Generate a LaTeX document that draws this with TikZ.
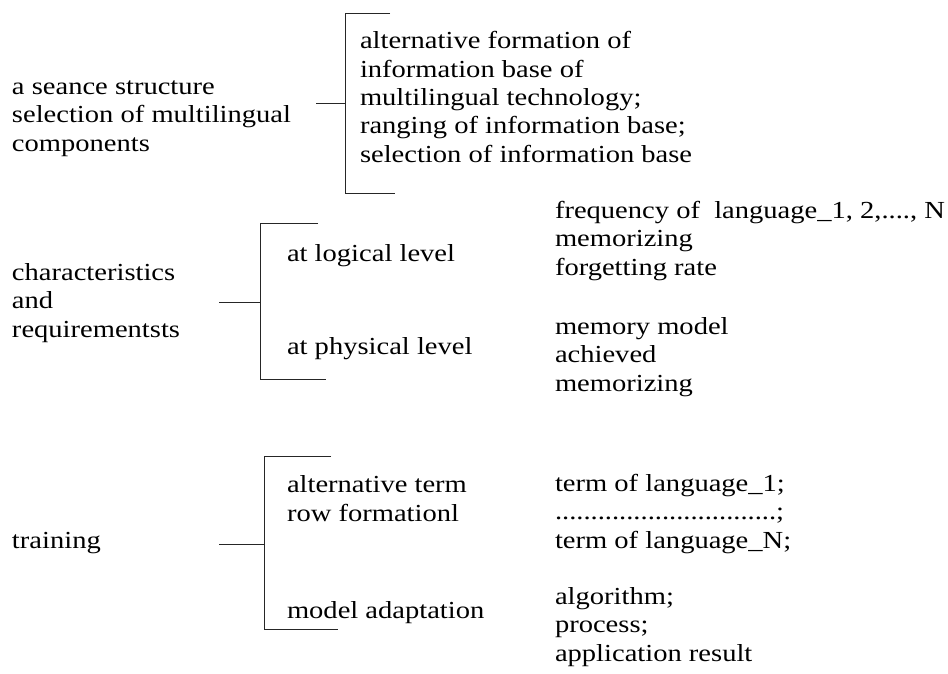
\documentclass[tikz,border=0pt]{standalone}
\usepackage{fontspec}
\setmainfont{Liberation Serif}
\begin{document}
\begin{tikzpicture}[x=1pt,y=-1pt,
  txt/.style={anchor=base west,inner sep=0pt,outer sep=0pt,align=left,xscale=1.165,
    font=\fontsize{24.5}{28.3}\selectfont},
  ln/.style={line width=1pt,draw=black!85}]
\path[use as bounding box,fill=white] (0,0) rectangle (948,673);
% group 1 (anchors at the baseline of the last line)
\node[txt] (g1) at (12,151) {a seance structure\\selection of multilingual\\components};
\node[txt] (g1r) at (360,162) {alternative formation of\\information base of\\multilingual technology;\\ranging of information base;\\selection of information base};
\coordinate (b1t) at (345,13);
\coordinate (b1b) at (345,193);
\coordinate (b1m) at (345,103);
\coordinate (c1) at (316,103);
\draw[ln] (390,13) -- (b1t) -- (b1b) -- (395,193);
\draw[ln] (c1) -- (b1m);
% group 2
\node[txt] (g2) at (12,337) {characteristics\\and\\requirementsts};
\node[txt] (g2a) at (287,261) {at logical level};
\node[txt] (g2b) at (287,354) {at physical level};
\node[txt] (g2ar) at (555,275) {frequency of\ \ language\_1, 2,...., N\\memorizing\\forgetting rate};
\node[txt] (g2br) at (555,391) {memory model\\achieved\\memorizing};
\coordinate (b2t) at (260,223);
\coordinate (b2b) at (260,379);
\coordinate (b2m) at (260,302);
\coordinate (c2) at (219,302);
\draw[ln] (318,223) -- (b2t) -- (b2b) -- (326,379);
\draw[ln] (c2) -- (b2m);
% group 3
\node[txt] (g3) at (12,548) {training};
\node[txt] (g3a) at (287,521) {alternative term\\row formationl};
\node[txt] (g3b) at (287,618) {model adaptation};
\node[txt] (g3ar) at (555,548) {term of language\_1;\\...............................;\\term of language\_N;};
\node[txt] (g3br) at (555,661) {algorithm;\\process;\\application result};
\coordinate (b3t) at (264,456);
\coordinate (b3b) at (264,629);
\coordinate (b3m) at (264,544);
\coordinate (c3) at (219,544);
\draw[ln] (331,456) -- (b3t) -- (b3b) -- (338,629);
\draw[ln] (c3) -- (b3m);
\end{tikzpicture}
\end{document}
